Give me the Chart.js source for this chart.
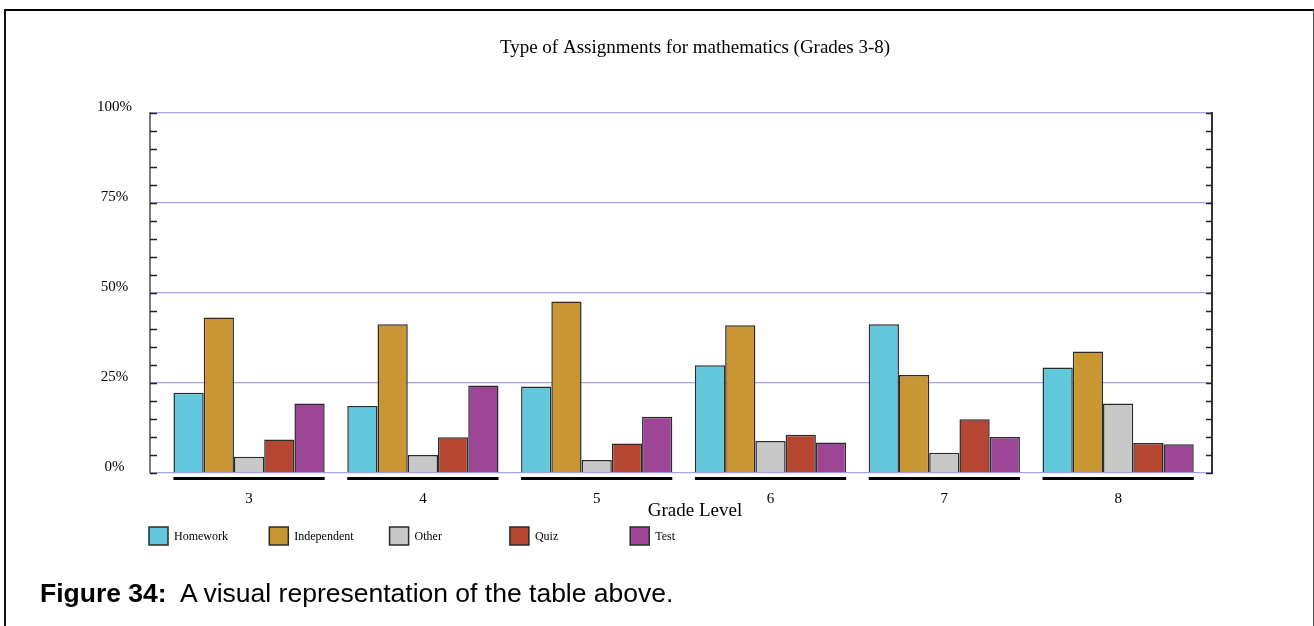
<!DOCTYPE html>
<html lang="en">
<head>
<meta charset="UTF-8">
<title>Type of Assignments for mathematics</title>
<script src="https://cdn.jsdelivr.net/npm/chart.js@4.4.0/dist/chart.umd.min.js"></script>
<style>
  body { margin: 0; background: #fff; width: 1314px; height: 626px; overflow: hidden; position: relative; }
  .frame { position: absolute; left: 4px; top: 9px; width: 1310px; height: 640px; box-sizing: border-box;
           border-top: 2px solid #000; border-left: 2px solid #111; border-right: 1px solid #555; }
  #chart { position: absolute; left: 0; top: 0; }
  .caption { position: absolute; left: 40px; top: 578px; font: 26.5px "Liberation Sans", Arial, sans-serif;
             color: #000; white-space: pre; }
</style>
</head>
<body>
<div class="frame"></div>
<canvas id="chart" width="1314" height="626"></canvas>
<div class="caption"><b>Figure 34:</b>  A visual representation of the table above.</div>

<script>
// grades on the x axis
const grades = ['3', '4', '5', '6', '7', '8'];

// share of assignments by type, in percent
const homework    = [22.3, 18.6, 24.0, 29.9, 41.3, 29.3];
const independent = [43.2, 41.3, 47.6, 41.0, 27.2, 33.7];
const other       = [4.5, 5.0, 3.6, 8.9, 5.6, 19.3];
const quiz        = [9.3, 9.9, 8.2, 10.6, 14.9, 8.3];
const test        = [19.3, 24.3, 15.6, 8.5, 10.0, 8.0];

const seriesNames = ['Homework', 'Independent', 'Other', 'Quiz', 'Test'];
const yTicks = [0, 25, 50, 75, 100];

const seriesValues = [homework, independent, other, quiz, test];
const seriesColors = ['#63c8dc', '#c89632', '#c8c8c8', '#b44632', '#9e4696'];
const serif = '"Liberation Serif", "Times New Roman", serif';

// minor ticks, group rules, axis title and legend
const decor = {
  id: 'decor',
  afterDraw(chart) {
    const { ctx, chartArea: a, scales: { y } } = chart;
    ctx.save();

    ctx.strokeStyle = '#222';
    ctx.lineWidth = 1.3;
    for (let v = 0; v <= 100; v += 5) {
      const py = Math.round(y.getPixelForValue(v)) + 0.5;
      ctx.beginPath();
      ctx.moveTo(a.left, py); ctx.lineTo(a.left + 7, py);
      ctx.moveTo(a.right - 6, py); ctx.lineTo(a.right, py);
      ctx.stroke();
    }

    const first = chart.getDatasetMeta(0).data;
    const last = chart.getDatasetMeta(chart.data.datasets.length - 1).data;
    ctx.fillStyle = '#000';
    first.forEach((bar, i) => {
      const x0 = bar.x - bar.width / 2;
      const x1 = last[i].x + last[i].width / 2;
      ctx.fillRect(x0, a.bottom + 4, x1 - x0, 3);
    });

    const t = chart.titleBlock;
    ctx.font = '19px ' + serif;
    ctx.textAlign = 'center';
    ctx.textBaseline = 'middle';
    ctx.fillText('Grade Level', t.left + t.width / 2, a.bottom + 38);

    ctx.font = '12px ' + serif;
    ctx.textAlign = 'left';
    chart.data.datasets.forEach((ds, i) => {
      const bx = a.left - 1 + i * 120.3;
      const by = a.bottom + 54;
      ctx.fillStyle = ds.backgroundColor;
      ctx.fillRect(bx, by, 19, 18);
      ctx.strokeStyle = '#2b2b2b';
      ctx.lineWidth = 1.5;
      ctx.strokeRect(bx, by, 19, 18);
      ctx.fillStyle = '#000';
      ctx.fillText(ds.label, bx + 25, by + 10);
    });

    ctx.restore();
  }
};

new Chart(document.getElementById('chart'), {
  type: 'bar',
  data: {
    datasets: seriesNames.map((name, i) => ({
      label: name,
      data: seriesValues[i].map((v, j) => ({ x: j, y: v })),
      backgroundColor: seriesColors[i],
      borderColor: '#2b2b2b',
      borderWidth: 1.5,
      categoryPercentage: 0.87,
      barPercentage: 1
    }))
  },
  options: {
    responsive: false,
    animation: false,
    events: [],
    layout: { padding: { left: 76, right: 0, top: 0, bottom: 113 } },
    plugins: {
      legend: { display: false },
      tooltip: { enabled: false },
      title: {
        display: true,
        text: 'Type of Assignments for mathematics (Grades 3-8)',
        color: '#000',
        font: { family: serif, size: 19, weight: 'normal', lineHeight: 1.2 },
        padding: { top: 37, bottom: 53 }
      }
    },
    scales: {
      x: {
        type: 'linear',
        offset: false,
        min: -0.57,
        max: 5.54,
        afterBuildTicks: s => { s.ticks = grades.map((g, i) => ({ value: i })); },
        afterFit: s => { s.height = 40; },
        grid: { display: false, offset: false },
        border: { display: false },
        ticks: {
          callback: v => grades[v],
          autoSkip: false,
          maxRotation: 0,
          padding: 9,
          color: '#000',
          font: { family: serif, size: 15 }
        }
      },
      y: {
        position: 'left',
        min: 0,
        max: 100,
        afterBuildTicks: s => { s.ticks = yTicks.map(v => ({ value: v })); },
        afterFit: s => { s.width = 74; },
        grid: { color: '#a3a3e8', lineWidth: 1.3, drawTicks: false },
        border: { color: '#7a7a7a', width: 2 },
        ticks: {
          callback: v => v + '%',
          crossAlign: 'center',
          padding: 18,
          labelOffset: -6,
          color: '#000',
          font: { family: serif, size: 15 }
        }
      },
      y2: {
        position: 'right',
        min: 0,
        max: 100,
        afterFit: s => { s.width = 102; },
        grid: { display: false },
        border: { color: '#333', width: 2 },
        ticks: { display: false }
      }
    }
  },
  plugins: [decor]
});
</script>
</body>
</html>
